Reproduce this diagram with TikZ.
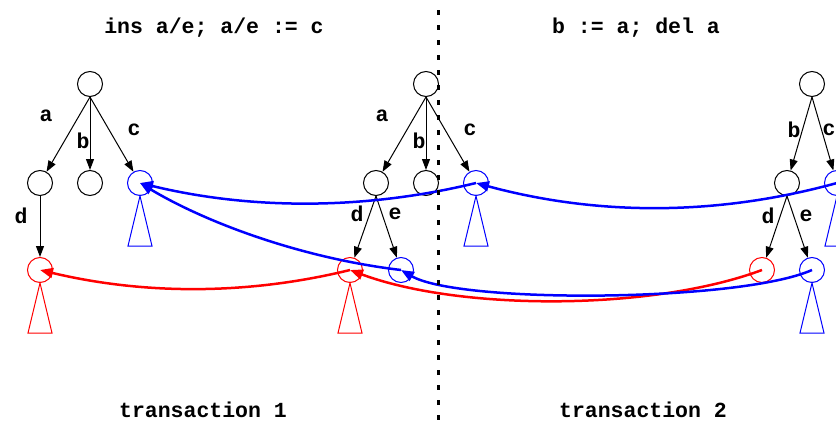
\documentclass[tikz,border=0pt]{standalone}
\usepackage{fontspec}
\setmonofont{Liberation Mono}
\usetikzlibrary{arrows.meta}
\begin{document}
\begin{tikzpicture}[x=1pt,y=-1pt,
  vert/.style={circle,draw,minimum size=25pt,inner sep=0pt,line width=1pt},
  edge/.style={draw,line width=1pt,-{Triangle[length=11pt,width=8pt]}},
  lbl/.style={inner sep=0pt,font=\fontsize{21.5}{24}\selectfont\ttfamily\bfseries},
  ttl/.style={inner sep=0pt,anchor=base,font=\fontsize{21.5}{24}\selectfont\ttfamily\bfseries},
  tri/.style={line width=1pt},
  link/.style={line width=2.5pt,-{Triangle[length=13pt,width=10pt]}}
]
\useasboundingbox (0,0) rectangle (836,423);
% titles
\node[ttl] (t1) at (214,33) {ins a/e; a/e := c};
\node[ttl] (t2) at (636,33) {b := a; del a};
\node[ttl] (b1) at (203,417) {transaction 1};
\node[ttl] (b2) at (643,417) {transaction 2};
% tree 1
\node[vert] (r1) at (90,84) {};
\node[vert] (a1) at (40,183) {};
\node[vert] (bb1) at (90,183) {};
\node[vert,blue] (c1) at (140,183) {};
\node[vert,red] (d1) at (40,270) {};
% tree 2
\node[vert] (r2) at (426,84) {};
\node[vert] (a2) at (376,183) {};
\node[vert] (bb2) at (426,183) {};
\node[vert,blue] (c2) at (476,183) {};
\node[vert,red] (d2) at (350,270) {};
\node[vert,blue] (e2) at (401,270) {};
% tree 3
\node[vert] (r3) at (812,84) {};
\node[vert] (bb3) at (787,183) {};
\node[vert,blue] (c3) at (837,183) {};
\node[vert,red] (d3) at (762,270) {};
\node[vert,blue] (e3) at (812,270) {};
% triangles
\draw[tri,blue] (c1.south) -- ++(12,50) -- ++(-24,0) -- cycle;
\draw[tri,red] (d1.south) -- ++(12,50) -- ++(-24,0) -- cycle;
\draw[tri,blue] (c2.south) -- ++(12,50) -- ++(-24,0) -- cycle;
\draw[tri,red] (d2.south) -- ++(12,50) -- ++(-24,0) -- cycle;
\draw[tri,blue] (c3.south) -- ++(12,50) -- ++(-24,0) -- cycle;
\draw[tri,blue] (e3.south) -- ++(12,50) -- ++(-24,0) -- cycle;
% tree edges
\draw[edge] (r1.south) -- (a1);
\draw[edge] (r1.south) -- (bb1);
\draw[edge] (r1.south) -- (c1);
\draw[edge] (a1.south) -- (d1);
\draw[edge] (r2.south) -- (a2);
\draw[edge] (r2.south) -- (bb2);
\draw[edge] (r2.south) -- (c2);
\draw[edge] (a2.south) -- (d2);
\draw[edge] (a2.south) -- (e2);
\draw[edge] (r3.south) -- (bb3);
\draw[edge] (r3.south) -- (c3);
\draw[edge] (bb3.south) -- (d3);
\draw[edge] (bb3.south) -- (e3);
% edge labels
\node[lbl] (la1) at (46,116) {a};
\node[lbl] (lb1) at (83,141) {b};
\node[lbl] (lc1) at (134,130) {c};
\node[lbl] (ld1) at (21,216) {d};
\node[lbl] (la2) at (382,116) {a};
\node[lbl] (lb2) at (419,141) {b};
\node[lbl] (lc2) at (470,130) {c};
\node[lbl] (ld2) at (357,214) {d};
\node[lbl] (le2) at (395,214) {e};
\node[lbl] (lb3) at (794,130) {b};
\node[lbl] (lc3) at (829,130) {c};
\node[lbl] (ld3) at (768,216) {d};
\node[lbl] (le3) at (806,216) {e};
% red links
\draw[link,red] (d3.center) .. controls (652,311) and (460,311) .. (d2.center);
\draw[link,red] (d2.center) .. controls (248,295) and (145,295) .. (d1.center);
% blue links
\draw[link,blue] (c3.center) .. controls (717,216) and (598,216) .. (c2.center);
\draw[link,blue] (c2.center) .. controls (365,210) and (251,210) .. (c1.center);
\draw[link,blue] (e3.center) .. controls (740,302) and (460,304) .. (e2.center);
\draw[link,blue] (e2.center) .. controls (300,258) and (205,222) .. (c1.center);
% separator
\coordinate (s1) at (438.5,0);
\coordinate (s2) at (438.5,423);
\draw[line width=3pt,dash pattern=on 5pt off 10pt,dash phase=5pt] (s1) -- (s2);
\end{tikzpicture}
\end{document}
